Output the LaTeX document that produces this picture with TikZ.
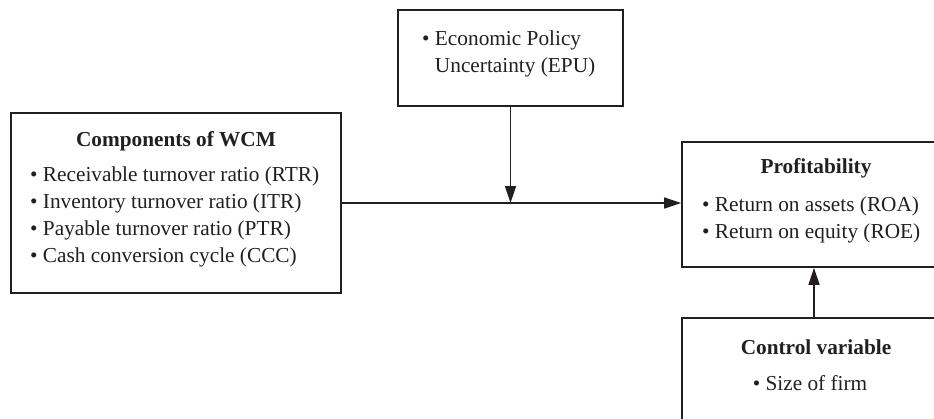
\documentclass[tikz,border=0pt]{standalone}
\usepackage{fontspec}
\setmainfont{Liberation Serif}
\usetikzlibrary{arrows.meta}
\definecolor{ink}{HTML}{231F20}
\begin{document}
\begin{tikzpicture}[x=1pt,y=-1pt,
  box/.style={draw=ink,line width=1.6pt,inner sep=0pt,minimum width=#1},
  txt/.style={text=ink,inner sep=0pt,font=\fontsize{21.3}{27}\selectfont},
  ttl/.style={txt,font=\fontsize{21.3}{27}\selectfont\bfseries},
  conn/.style={draw=ink,line width=1.4pt,-{Triangle[length=17pt,width=11pt]}}]
\useasboundingbox (0,0) rectangle (934,418);
\clip (0,0) rectangle (934,418);
% boxes
\node[box=330pt,minimum height=180pt] (wcm) at (176,203) {};
\node[box=225pt,minimum height=96pt] (epu) at (510.5,58) {};
\node[box=268pt,minimum height=125pt] (prof) at (816,204.5) {};
\node[box=268pt,minimum height=140pt] (ctrl) at (816,388) {};
% WCM texts
\node[ttl,anchor=mid] (wcmt) at (176,144) {Components of WCM};
\node[txt,anchor=mid west] (w1) at (30,179) {• Receivable turnover ratio (RTR)};
\node[txt,anchor=mid west] (w2) at (30,206) {• Inventory turnover ratio (ITR)};
\node[txt,anchor=mid west] (w3) at (30,233) {• Payable turnover ratio (PTR)};
\node[txt,anchor=mid west] (w4) at (30,260) {• Cash conversion cycle (CCC)};
% EPU texts
\node[txt,anchor=mid west] (e1) at (422,43) {• Economic Policy};
\node[txt,anchor=mid west] (e2) at (422,70) {\phantom{• }Uncertainty (EPU)};
% Profitability texts
\node[ttl,anchor=mid] (pt) at (816,171) {Profitability};
\node[txt,anchor=mid west] (p1) at (702,209) {• Return on assets (ROA)};
\node[txt,anchor=mid west] (p2) at (702,236) {• Return on equity (ROE)};
% Control texts
\node[ttl,anchor=mid] (ct) at (816,352) {Control variable};
\node[txt,anchor=mid] (c1) at (810,388) {• Size of firm};
% connectors
\coordinate (meet) at (epu.south |- wcm.east);
\draw[conn] (wcm.east) -- (wcm.east -| prof.west);
\draw[conn] (epu.south) -- (meet);
\draw[conn] ([xshift=-2pt]ctrl.north) -- ([xshift=-2pt]prof.south);
\end{tikzpicture}
\end{document}
